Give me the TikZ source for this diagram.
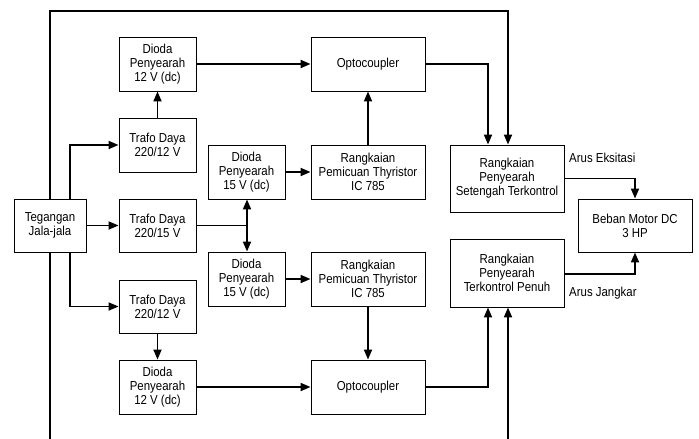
\documentclass[tikz,border=0pt]{standalone}
\usepackage{fontspec}
\setmainfont[FakeStretch=0.88]{Liberation Sans}
\usetikzlibrary{arrows.meta}
\begin{document}
\begin{tikzpicture}[x=1pt,y=-1pt,
  blk/.style={draw,line width=0.9pt,rectangle,align=center,inner sep=0pt,
    font=\fontsize{13}{14}\selectfont},
  sm/.style={blk,minimum width=77pt,minimum height=54pt},
  wd/.style={blk,minimum width=114pt,minimum height=54pt},
  conn/.style={line width=1.8pt},
  arr/.style={conn,-{Triangle[length=10pt,width=8pt]}},
  lbl/.style={anchor=west,inner sep=0pt,font=\fontsize{13}{14}\selectfont}]
\useasboundingbox[fill=white] (0,0) rectangle (699,439);
% boxes
\node[blk,minimum width=72pt,minimum height=53pt] (teg) at (50,225.5) {Tegangan\\Jala-jala};
\node[sm] (tr1) at (157.5,145) {Trafo Daya\\220/12 V};
\node[sm] (d12a) at (157.5,64) {Dioda\\Penyearah\\12 V (dc)};
\node[sm,minimum height=53pt] (tr2) at (157.5,225.5) {Trafo Daya\\220/15 V};
\node[sm,minimum height=53pt] (tr3) at (157.5,306.5) {Trafo Daya\\220/12 V};
\node[sm] (d12b) at (157.5,387) {Dioda\\Penyearah\\12 V (dc)};
\node[sm] (d15a) at (246.5,172) {Dioda\\Penyearah\\15 V (dc)};
\node[sm] (d15b) at (246.5,279) {Dioda\\Penyearah\\15 V (dc)};
\node[wd] (opa) at (368,64) {Optocoupler};
\node[wd] (pema) at (368,172) {Rangkaian\\Pemicuan Thyristor\\IC 785};
\node[wd] (pemb) at (368,279) {Rangkaian\\Pemicuan Thyristor\\IC 785};
\node[wd] (opb) at (368,387) {Optocoupler};
\node[wd,minimum height=67pt] (set) at (507,178.5) {Rangkaian\\Penyearah\\Setengah Terkontrol};
\node[wd,minimum height=68pt] (pen) at (507,273) {Rangkaian\\Penyearah\\Terkontrol Penuh};
\node[wd,minimum height=53pt] (beb) at (635,225.5) {Beban Motor DC\\3 HP};
\node[lbl] (lex) at (569,158) {Arus Eksitasi};
\node[lbl] (lja) at (569,293) {Arus Jangkar};
% coordinates
\coordinate (topr) at (508,11);
\coordinate (botl) at (50,439);
\coordinate (botr) at (508,439);
\coordinate (j) at (247,225.5);
% connectors
\draw[arr] (teg.north) |- (topr) -- (topr |- set.north);
\draw[conn] (teg.south) -- (botl);
\draw[arr] (botr) -- (botr |- pen.south);
\draw[arr] ([xshift=20pt]teg.north) |- (tr1.west);
\draw[arr] (teg.east) -- (tr2.west);
\draw[arr] ([xshift=20pt]teg.south) |- (tr3.west);
\draw[arr] (tr1.north) -- (d12a.south);
\draw[arr] (d12a.east) -- (opa.west);
\draw[arr] (opa.east) -| ([xshift=-19pt]set.north);
\draw[arr] (pema.north) -- (opa.south);
\draw[arr] (d15a.east) -- (pema.west);
\draw[conn] (tr2.east) -- (j);
\draw[arr] (j) -- (j |- d15a.south);
\draw[arr] (j) -- (j |- d15b.north);
\draw[arr] (d15b.east) -- (pemb.west);
\draw[arr] (pemb.south) -- (opb.north);
\draw[arr] (tr3.south) -- (d12b.north);
\draw[arr] (d12b.east) -- (opb.west);
\draw[arr] (opb.east) -| ([xshift=-19pt]pen.south);
\draw[arr] (set.east) -| (beb.north);
\draw[arr] ([yshift=-1pt]pen.east) -| (beb.south);
\end{tikzpicture}
\end{document}
